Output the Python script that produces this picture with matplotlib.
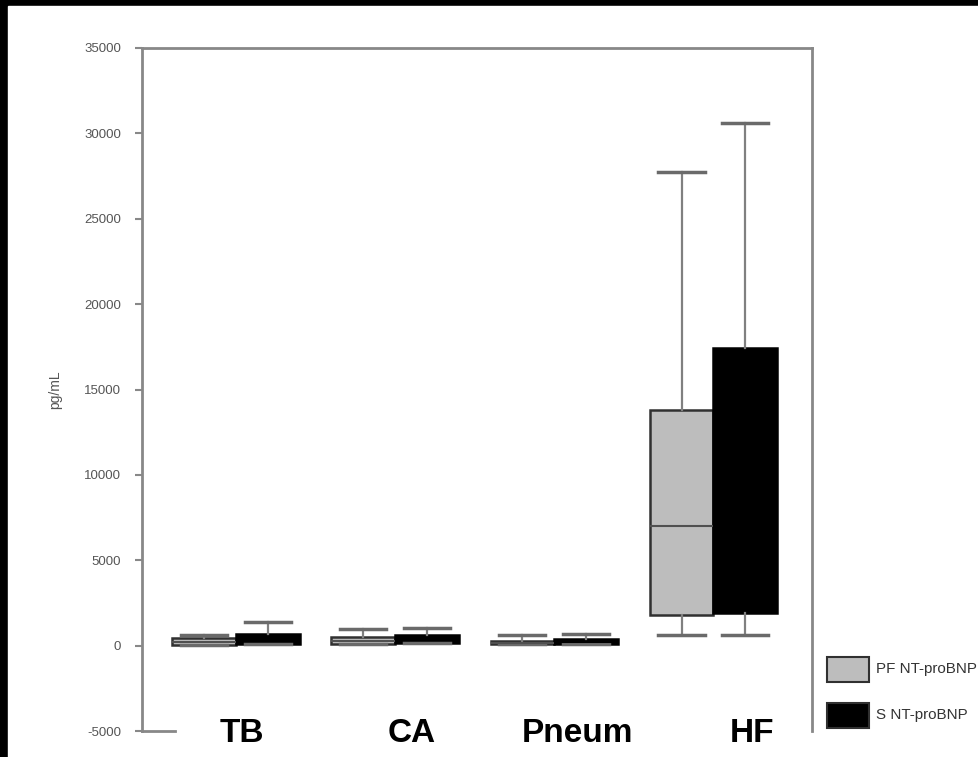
import matplotlib.pyplot as plt
from matplotlib.patches import Rectangle

# NT-proBNP by diagnosis group, pleural fluid (PF) vs serum (S)
groups = ['TB', 'CA', 'Pneum', 'HF']

pf_low = [60, 120, 80, 600]
pf_q1 = [60, 120, 80, 1820]
pf_med = [200, 300, 150, 7030]
pf_q3 = [460, 520, 300, 13780]
pf_high = [650, 1000, 630, 27750]

s_low = [120, 130, 80, 650]
s_q1 = [120, 130, 80, 1930]
s_med = [350, 400, 200, 8000]
s_q3 = [700, 650, 360, 17420]
s_high = [1400, 1050, 660, 30600]

legend_labels = ['PF NT-proBNP', 'S NT-proBNP']
yticks = list(range(-5000, 35001, 5000))

W, H = 979, 757
fig = plt.figure(figsize=(W / 100, H / 100), dpi=100, facecolor='black')
# white page inside the black border
fig.add_artist(Rectangle((8 / W, 0), 1 - 8 / W, (H - 6) / H,
                         transform=fig.transFigure, color='white', zorder=-10))

ax = fig.add_axes([142 / W, (H - 731) / H, (812 - 142) / W, (731 - 48) / H])
ax.set_facecolor('white')

def stats(lo, q1, med, q3, hi):
    return [dict(whislo=a, q1=b, med=c, q3=d, whishi=e, fliers=[])
            for a, b, c, d, e in zip(lo, q1, med, q3, hi)]

pos = list(range(1, len(groups) + 1))
bw = 0.40
common = dict(widths=bw, patch_artist=True, showfliers=False,
              whiskerprops=dict(color='#808080', lw=1.6),
              capprops=dict(color='#6a6a6a', lw=2.5),
              capwidths=0.29)

ax.bxp(stats(pf_low, pf_q1, pf_med, pf_q3, pf_high),
       positions=[p - bw / 2 for p in pos],
       boxprops=dict(facecolor='#bdbdbd', edgecolor='#303030', lw=1.8),
       medianprops=dict(color='#505050', lw=1.5), **common)
ax.bxp(stats(s_low, s_q1, s_med, s_q3, s_high),
       positions=[p + bw / 2 for p in pos],
       boxprops=dict(facecolor='black', edgecolor='black', lw=1.8),
       medianprops=dict(color='black', lw=1.5), **common)

ax.set_xlim(0.41, 4.62)
ax.set_ylim(-5000, 35000)
ax.set_xticks([])
ax.set_yticks(yticks)
ax.set_yticklabels([str(t) for t in yticks], family='Liberation Sans',
                   fontsize=9.5, color='#555555')
ax.tick_params(axis='y', direction='out', length=5, width=1.5,
               color='#888888', pad=10)

for s in ['left', 'right', 'top', 'bottom']:
    ax.spines[s].set_color('#888888')
    ax.spines[s].set_linewidth(2)
ax.spines['bottom'].set_bounds(0.41, 0.62)

ax.set_ylabel('pg/mL', family='Liberation Sans', fontsize=10,
              color='#555555', labelpad=16)

# group names under the boxes
label_x = [242, 412, 577, 752]
for name, x in zip(groups, label_x):
    fig.text(x / W, (H - 733) / H, name, ha='center', va='center',
             fontsize=24, fontweight='bold', family='Liberation Sans',
             color='black')

# legend, drawn by hand to the right of the plot
for (y0, fc, lab) in [(657, '#bdbdbd', legend_labels[0]),
                      (703, 'black', legend_labels[1])]:
    fig.add_artist(Rectangle((827 / W, (H - y0 - 25) / H), 42 / W, 25 / H,
                             transform=fig.transFigure, facecolor=fc,
                             edgecolor='#303030', lw=1.5))
    fig.text(876 / W, (H - y0 - 12.5) / H, lab, ha='left', va='center',
             fontsize=10.9, family='Liberation Sans', color='#333333')

fig.savefig('out.png', dpi=100, facecolor=fig.get_facecolor())
